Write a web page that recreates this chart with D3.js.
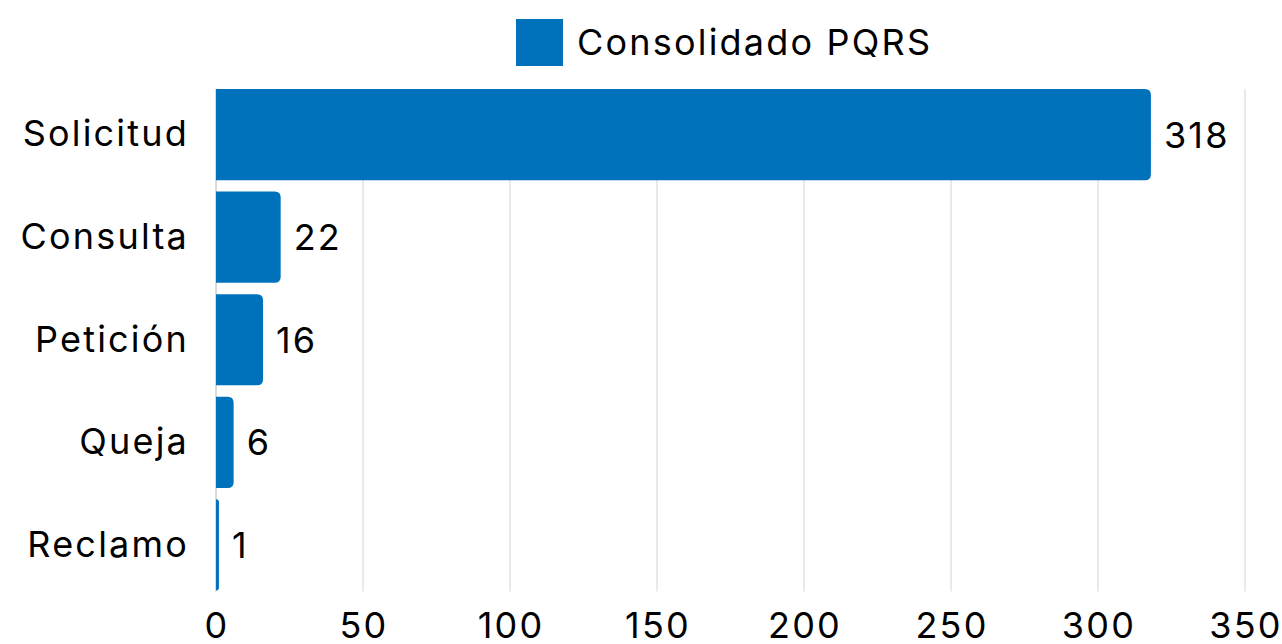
<!DOCTYPE html>
<html>
<head>
  <meta charset="utf-8">
  <script src="https://d3js.org/d3.v7.min.js"></script>
  <style>
    body { margin: 0; background: #fff; }
    text { font-family: "Inter", "Open Sans", sans-serif; fill: #000; letter-spacing: 2.2px; }
  </style>
</head>
<body>
  <svg id="chart" width="1282" height="644"></svg>

  <script>
    const categories = ["Solicitud", "Consulta", "Petición", "Queja", "Reclamo"];
    const values = [318, 22, 16, 6, 1];
    const xTicks = [0, 50, 100, 150, 200, 250, 300, 350];
    const seriesName = "Consolidado PQRS";

    let svg = d3.select("svg#chart");
    const barColor = "#0072bc";
    const fontSize = 36;

    let xscale = d3.scaleLinear()
                   .domain([0, 350])
                   .range([216, 1245]);

    let yscale = d3.scaleBand()
                   .domain(categories)
                   .range([83.5, 596])
                   .paddingInner(0.112)
                   .paddingOuter(0.054);

    const plotTop = yscale(categories[0]);
    const plotBottom = yscale(categories[categories.length - 1]) + yscale.bandwidth();

    // gridlines
    xTicks.forEach(t => {
      svg.append("line")
         .attr("x1", xscale(t)).attr("x2", xscale(t))
         .attr("y1", plotTop).attr("y2", plotBottom + 1)
         .style("stroke", t == 0 ? "#b4b4b4" : "#d4d4d4")
         .style("stroke-width", 1);
    });

    // bars with rounded right corners
    function barPath(x0, x1, y0, h, r) {
      r = Math.min(r, (x1 - x0), h / 2);
      return `M${x0},${y0} H${x1 - r} Q${x1},${y0} ${x1},${y0 + r} V${y0 + h - r} Q${x1},${y0 + h} ${x1 - r},${y0 + h} H${x0} Z`;
    }

    categories.forEach((c, i) => {
      let y0 = yscale(c);
      let h = yscale.bandwidth();
      let x1 = xscale(values[i]);
      svg.append("path")
         .attr("d", barPath(xscale(0), x1, y0, h, 6))
         .style("fill", barColor);

      svg.append("text")
         .text(values[i])
         .attr("x", x1 + 13)
         .attr("y", y0 + h / 2)
         .attr("dy", "0.36em")
         .style("font-size", fontSize + "px");

      svg.append("text")
         .text(c)
         .attr("x", 189)
         .attr("y", y0 + h / 2)
         .attr("dy", "0.33em")
         .style("text-anchor", "end")
         .style("font-size", fontSize + "px");
    });

    // x tick labels
    xTicks.forEach(t => {
      svg.append("text")
         .text(t)
         .attr("x", xscale(t) + 1)
         .attr("y", 638)
         .style("text-anchor", "middle")
         .style("font-size", fontSize + "px");
    });

    // legend
    svg.append("rect")
       .attr("x", 516).attr("y", 19)
       .attr("width", 47).attr("height", 47)
       .style("fill", barColor);
    svg.append("text")
       .text(seriesName)
       .attr("x", 577)
       .attr("y", 42.5)
       .attr("dy", "0.35em")
       .style("font-size", fontSize + "px");
  </script>
</body>
</html>
